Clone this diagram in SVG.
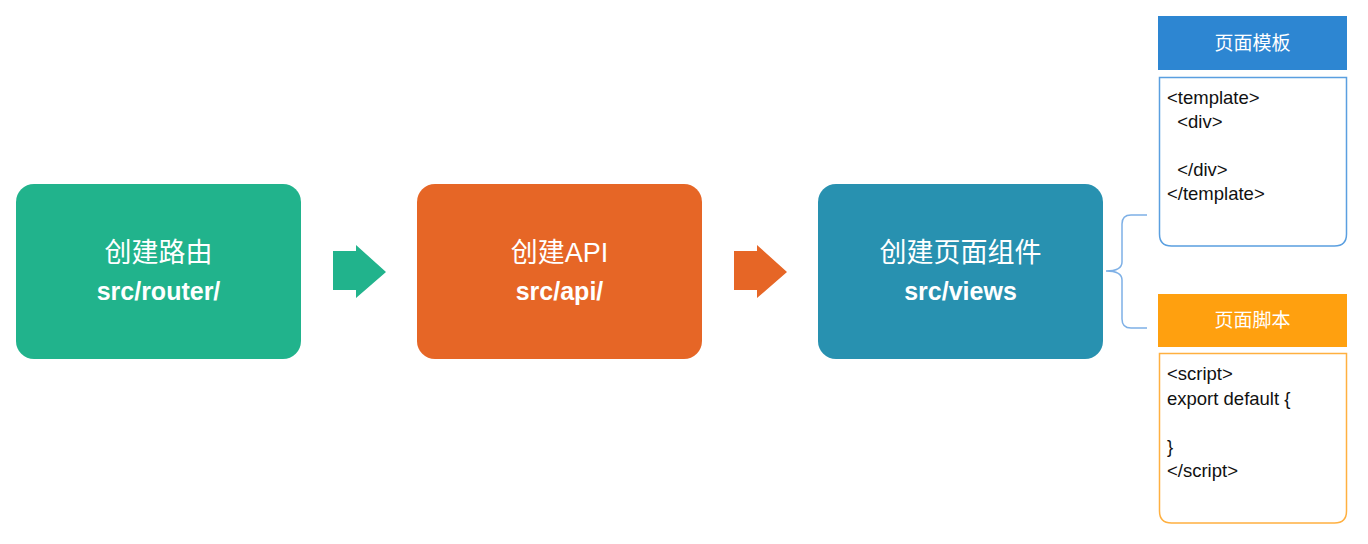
<svg xmlns="http://www.w3.org/2000/svg" width="1368" height="544" viewBox="0 0 1368 544">
<style>
.cn{font-family:"Liberation Sans","Noto Sans CJK SC",sans-serif;font-size:27px;fill:#ffffff;text-anchor:middle}
.en{font-family:"Liberation Sans","Noto Sans CJK SC",sans-serif;font-size:25px;font-weight:bold;fill:#ffffff;text-anchor:middle}
.hd{font-family:"Liberation Sans","Noto Sans CJK SC",sans-serif;font-size:19px;fill:#ffffff;text-anchor:middle}
.code{font-family:"Liberation Sans",sans-serif;font-size:18.5px;fill:#111111}
</style>
<rect width="1368" height="544" fill="#ffffff"/>
<g id="router">
<rect x="16" y="184" width="285" height="175" rx="18" fill="#21B38C"/>
<text class="cn" x="158.5" y="262">创建路由</text>
<text class="en" x="158.5" y="300">src/router/</text>
</g>
<g id="api">
<rect x="417" y="184" width="285" height="175" rx="18" fill="#E66626"/>
<text class="cn" x="559.5" y="262">创建API</text>
<text class="en" x="559.5" y="300">src/api/</text>
</g>
<g id="views">
<rect x="818" y="184" width="285" height="175" rx="18" fill="#2891B0"/>
<text class="cn" x="960.5" y="262">创建页面组件</text>
<text class="en" x="960.5" y="300">src/views</text>
</g>
<g id="template">
<rect x="1158" y="16" width="189" height="54" fill="#2D86D2"/>
<text class="hd" x="1252.5" y="50">页面模板</text>
<path d="M1159.5 77.5 H1346.5 V234 Q1346.5 246 1334.5 246 H1171.5 Q1159.5 246 1159.5 234 Z" fill="#ffffff" stroke="#5A9FE0" stroke-width="1.5"/>
<text class="code" x="1167" y="104">&lt;template&gt;</text>
<text class="code" x="1167" y="128" xml:space="preserve">  &lt;div&gt;</text>
<text class="code" x="1167" y="176" xml:space="preserve">  &lt;/div&gt;</text>
<text class="code" x="1167" y="200">&lt;/template&gt;</text>
</g>
<g id="script">
<rect x="1158" y="294" width="189" height="53" fill="#FFA00F"/>
<text class="hd" x="1252.5" y="327">页面脚本</text>
<path d="M1159.5 353.5 H1346.5 V511 Q1346.5 523 1334.5 523 H1171.5 Q1159.5 523 1159.5 511 Z" fill="#ffffff" stroke="#FFB040" stroke-width="1.5"/>
<text class="code" x="1167" y="380">&lt;script&gt;</text>
<text class="code" x="1167" y="405">export default {</text>
<text class="code" x="1167" y="453">}</text>
<text class="code" x="1167" y="477">&lt;/script&gt;</text>
</g>
<g id="connectors">
<path d="M333 251 H356 V245 L386 272 L356 298 V290 H333 Z" fill="#21B38C"/>
<path d="M734 251 H757 V245 L787 272 L757 298 V290 H734 Z" fill="#E66626"/>
<path d="M1147 215 H1131 Q1122 215 1122 224 V262 Q1122 271 1106 271 Q1122 271 1122 280 V319 Q1122 328 1131 328 H1147" fill="none" stroke="#7EB0E6" stroke-width="1.5"/>
</g>
</svg>
